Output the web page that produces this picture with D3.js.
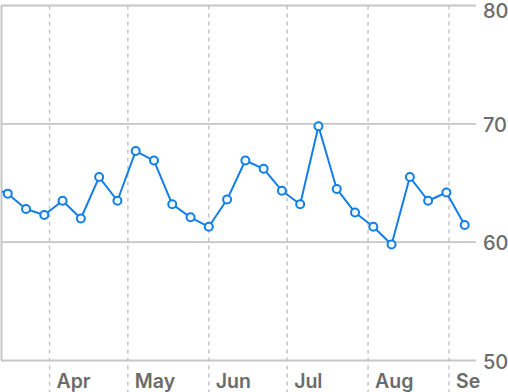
<!DOCTYPE html>
<html>
<head>
<meta charset="utf-8">
<script src="https://cdn.jsdelivr.net/npm/d3@7"></script>
<style>
  html, body { margin: 0; padding: 0; background: #fff; }
  text { font-family: Inter, "Noto Sans", sans-serif; }
</style>
</head>
<body>
<div id="chart"></div>
<script>
// weekly readings (the first one sits just left of the visible area)
var dates = ['2023-03-09', '2023-03-16', '2023-03-23', '2023-03-30', '2023-04-06', '2023-04-13',
    '2023-04-20', '2023-04-27', '2023-05-04', '2023-05-11', '2023-05-18', '2023-05-25',
    '2023-06-01', '2023-06-08', '2023-06-15', '2023-06-22', '2023-06-29', '2023-07-06',
    '2023-07-13', '2023-07-20', '2023-07-27', '2023-08-03', '2023-08-10', '2023-08-17',
    '2023-08-24', '2023-08-31', '2023-09-07'];
var values = [64.7, 64.1, 62.8, 62.3, 63.5, 62.0, 65.5, 63.5, 67.7, 66.9, 63.2, 62.1, 61.3,
    63.6, 66.9, 66.2, 64.35, 63.2, 69.8, 64.5, 62.5, 61.3, 59.8, 65.5, 63.5, 64.2, 61.45];
var yTicks = [50, 60, 70, 80];
var monthTicks = ['2023-04-01', '2023-05-01', '2023-06-01', '2023-07-01', '2023-08-01', '2023-09-01'];

var width = 508,
    height = 392,
    margin = {left: 1, right: 476, top: 5.5, bottom: 360.5};

var parse = d3.timeParse('%Y-%m-%d');
var data = dates.map(function(d, i) { return {date: parse(d), value: values[i]}; });

var xScale = d3.scaleTime()
    .domain([new Date(2023, 2, 13, 10), new Date(2023, 8, 11, 8)])
    .range([margin.left, margin.right]);
var yScale = d3.scaleLinear().domain([50, 80]).range([margin.bottom, margin.top]);

var svg = d3.select('#chart').append('svg')
    .attr('width', width)
    .attr('height', height);

var defs = svg.append('defs');
defs.append('clipPath').attr('id', 'plot-clip')
    .append('rect')
    .attr('x', margin.left + 1).attr('y', 0)
    .attr('width', margin.right - margin.left - 1).attr('height', height);

defs.append('clipPath').attr('id', 'label-clip')
    .append('rect')
    .attr('x', 0).attr('y', 0)
    .attr('width', 480).attr('height', height);

// vertical dashed month lines (run through the label band)
svg.append('g').selectAll('line')
    .data(monthTicks.map(parse))
    .enter().append('line')
    .attr('x1', function(d) { return xScale(d); })
    .attr('x2', function(d) { return xScale(d); })
    .attr('y1', margin.top)
    .attr('y2', height)
    .attr('stroke', '#c6c6c6')
    .attr('stroke-width', 1.5)
    .attr('stroke-dasharray', '4,4');

// horizontal grid
svg.append('g').selectAll('line')
    .data(yTicks)
    .enter().append('line')
    .attr('x1', margin.left)
    .attr('x2', margin.right)
    .attr('y1', function(d) { return yScale(d); })
    .attr('y2', function(d) { return yScale(d); })
    .attr('stroke', '#c6c6c6')
    .attr('stroke-width', 1.8);

// left border
svg.append('line')
    .attr('x1', margin.left + 0.5).attr('x2', margin.left + 0.5)
    .attr('y1', yScale(80)).attr('y2', yScale(50))
    .attr('stroke', '#c6c6c6')
    .attr('stroke-width', 2);

// y labels on the right
svg.append('g').selectAll('text')
    .data(yTicks)
    .enter().append('text')
    .attr('x', 483)
    .attr('y', function(d) { return Math.max(yScale(d) + 8, 17.5); })
    .attr('fill', '#6b6b6b')
    .attr('font-size', 20)
    .attr('font-weight', 500)
    .text(function(d) { return d; });

// month labels
svg.append('g').attr('clip-path', 'url(#label-clip)').selectAll('text')
    .data(monthTicks.map(parse))
    .enter().append('text')
    .attr('x', function(d) { return xScale(d) + 7; })
    .attr('y', 388)
    .attr('fill', '#6b6b6b')
    .attr('font-size', 19.5)
    .attr('font-weight', 600)
    .text(d3.timeFormat('%b'));

// line + points
var plot = svg.append('g').attr('clip-path', 'url(#plot-clip)');

var line = d3.line()
    .x(function(d) { return xScale(d.date); })
    .y(function(d) { return yScale(d.value); });

plot.append('path')
    .attr('d', line(data))
    .attr('fill', 'none')
    .attr('stroke', '#147ee8')
    .attr('stroke-width', 2)
    .attr('stroke-linejoin', 'round');

plot.selectAll('circle')
    .data(data)
    .enter().append('circle')
    .attr('cx', function(d) { return xScale(d.date); })
    .attr('cy', function(d) { return yScale(d.value); })
    .attr('r', 4)
    .attr('fill', '#f4fbff')
    .attr('stroke', '#147ee8')
    .attr('stroke-width', 2);
</script>
</body>
</html>
